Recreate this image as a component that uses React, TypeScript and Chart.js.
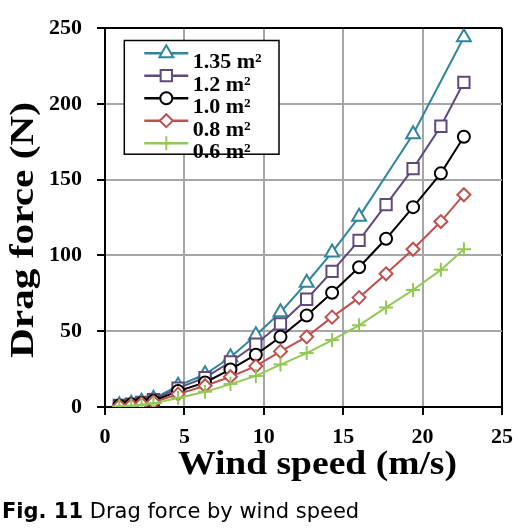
import React, { useEffect, useRef } from 'react';
import { Chart, registerables } from 'chart.js';
import { drawPoint } from 'chart.js/helpers';

Chart.register(...registerables);

// ---- data ----
const windSpeed = [0.9, 1.65, 2.3, 3.05, 4.6, 6.3, 7.9, 9.5, 11.05, 12.7, 14.3, 16.0, 17.7, 19.4, 21.15, 22.6];
const force135 = [1.2, 2.2, 3.4, 5.5, 14, 21.6, 32.8, 47.4, 62.5, 82, 102, 125.5, null, 180, null, 244];
const force120 = [1.0, 1.9, 3.0, 4.8, 12.5, 19.4, 29.7, 41.4, 54.9, 71.1, 89.5, 110, 133.6, 157.3, 185.3, 214.3];
const force100 = [0.8, 1.6, 2.5, 4.0, 10.5, 16.2, 24.8, 34.5, 46.3, 60.4, 75.4, 92.2, 111, 131.9, 154.2, 178.4];
const force080 = [0.6, 1.2, 2.0, 3.2, 8.5, 14, 20, 27, 36.7, 46.3, 59.3, 72.2, 87.9, 104.1, 122.4, 140.1];
const force060 = [0.5, 0.9, 1.5, 2.4, 6, 10, 15.1, 20.5, 28, 35.6, 44.2, 53.9, 65.7, 77.2, 90.5, 104.1];
const seriesLabels = ['1.35 m²', '1.2 m²', '1.0 m²', '0.8 m²', '0.6 m²'];
const xTitle = 'Wind speed (m/s)';
const yTitle = 'Drag force (N)';
const captionBold = 'Fig. 11';
const captionText = ' Drag force by wind speed';

const SERIF = '"Liberation Serif", "Times New Roman", serif';

const toPoints = (ys: (number | null)[]) =>
  windSpeed
    .map((x, i) => ({ x, y: ys[i] }))
    .filter((p) => p.y !== null) as { x: number; y: number }[];

const styles = [
  { color: '#31859c', pointStyle: 'triangle', radius: 8 },
  { color: '#604a7b', pointStyle: 'rect', radius: 8 },
  { color: '#000000', pointStyle: 'circle', radius: 6 },
  { color: '#c0504d', pointStyle: 'rectRot', radius: 6.5 },
  { color: '#92c955', pointStyle: 'cross', radius: 7 },
];

const seriesValues = [force135, force120, force100, force080, force060];

const titlesPlugin = {
  id: 'stretchedTitles',
  afterDraw(chart: any) {
    const ctx = chart.ctx as CanvasRenderingContext2D;
    const ca = chart.chartArea;
    ctx.save();
    ctx.fillStyle = '#000';
    ctx.font = `bold 33px ${SERIF}`;
    ctx.textAlign = 'center';
    ctx.textBaseline = 'alphabetic';
    // x title
    const wx = ctx.measureText(xTitle).width;
    ctx.save();
    ctx.translate((ca.left + ca.right) / 2 + 14, ca.bottom + 66.5);
    ctx.scale(279 / wx, 1);
    ctx.fillText(xTitle, 0, 0);
    ctx.restore();
    // y title
    const wy = ctx.measureText(yTitle).width;
    ctx.save();
    ctx.translate(33, 230);
    ctx.rotate(-Math.PI / 2);
    ctx.scale(256 / wy, 1);
    ctx.fillText(yTitle, 0, 0);
    ctx.restore();
    ctx.restore();
  },
};

const legendPlugin = {
  id: 'boxLegend',
  afterDraw(chart: any) {
    const ctx = chart.ctx as CanvasRenderingContext2D;
    const ca = chart.chartArea;
    const bx = ca.left + 19.3;
    const by = ca.top + 12.3;
    const bw = 154.7;
    const bh = 113.7;
    ctx.save();
    ctx.fillStyle = '#fff';
    ctx.fillRect(bx, by, bw, bh);
    ctx.strokeStyle = '#000';
    ctx.lineWidth = 1.5;
    ctx.strokeRect(bx, by, bw, bh);
    chart.data.datasets.forEach((ds: any, i: number) => {
      const y = by + 12.7 + i * 22.5;
      ctx.strokeStyle = ds.borderColor;
      ctx.lineWidth = 2.5;
      ctx.beginPath();
      ctx.moveTo(bx + 20, y);
      ctx.lineTo(bx + 64, y);
      ctx.stroke();
      ctx.fillStyle = '#fff';
      ctx.lineWidth = 2;
      drawPoint(ctx, { pointStyle: ds.pointStyle, radius: ds.pointRadius, rotation: 0, borderWidth: 2 } as any, bx + 42, y);
      ctx.fillStyle = '#000';
      ctx.font = `bold 22px ${SERIF}`;
      ctx.textAlign = 'left';
      ctx.textBaseline = 'alphabetic';
      ctx.fillText(ds.label, bx + 68.4, y + 15);
    });
    ctx.restore();
  },
};

export default function App() {
  const canvasRef = useRef<HTMLCanvasElement | null>(null);

  useEffect(() => {
    if (!canvasRef.current) return;
    const datasets = seriesValues.map((vals, i) => ({
      label: seriesLabels[i],
      data: toPoints(vals),
      borderColor: styles[i].color,
      backgroundColor: '#fff',
      pointBackgroundColor: '#fff',
      pointBorderColor: styles[i].color,
      pointStyle: styles[i].pointStyle,
      pointRadius: styles[i].radius,
      pointBorderWidth: 2,
      borderWidth: 2,
      tension: 0,
      fill: false,
      order: seriesValues.length - 1 - i,
    }));

    const tickFont = { family: SERIF, size: 22, weight: 'bold' as const };

    const chart = new Chart(canvasRef.current, {
      type: 'line',
      data: { datasets },
      plugins: [legendPlugin, titlesPlugin],
      options: {
        responsive: false,
        animation: false,
        devicePixelRatio: 1,
        layout: { padding: { left: 0, right: 29, top: 20, bottom: 0 } },
        plugins: {
          legend: { display: false },
          tooltip: { enabled: false },
          title: { display: false },
        },
        scales: {
          x: {
            type: 'linear',
            min: 0,
            max: 25,
            ticks: { stepSize: 5, font: tickFont, color: '#000', padding: 9 },
            grid: {
              color: (c: any) => (c.tick && c.tick.value === 25 ? '#000' : '#a6a6a6'),
              lineWidth: (c: any) => (c.tick && c.tick.value === 25 ? 2 : 2),
              tickColor: '#000',
              tickWidth: 2,
              tickLength: 8,
            },
            border: { display: true, color: '#000', width: 2 },
            afterFit: (s: any) => {
              s.height = 125;
            },
          },
          y: {
            type: 'linear',
            min: 0,
            max: 250,
            ticks: { stepSize: 50, font: tickFont, color: '#000', padding: 15 },
            grid: {
              color: (c: any) => (c.tick && c.tick.value === 250 ? '#000' : '#a6a6a6'),
              lineWidth: 2,
              tickColor: '#000',
              tickWidth: 2,
              tickLength: 8,
            },
            border: { display: true, color: '#000', width: 2 },
            afterFit: (s: any) => {
              s.width = 105;
            },
          },
        },
      } as any,
    });
    return () => chart.destroy();
  }, []);

  return (
    <div style={{ position: 'absolute', left: 0, top: 0, width: 531, height: 532, background: '#fff' }}>
      <canvas ref={canvasRef} width={531} height={532} style={{ display: 'block' }} />
      <div
        style={{
          position: 'absolute',
          left: 2,
          top: 501,
          fontFamily: '"DejaVu Sans", sans-serif',
          fontSize: 21,
          lineHeight: '21px',
          whiteSpace: 'nowrap',
          color: '#000',
        }}
      >
        <b>{captionBold}</b>
        {captionText}
      </div>
    </div>
  );
}
